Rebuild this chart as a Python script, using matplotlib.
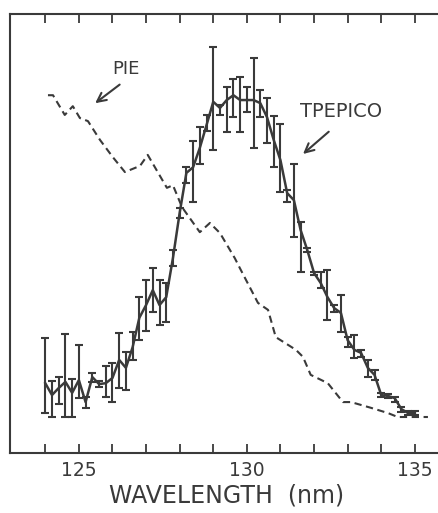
import numpy as np
import matplotlib
matplotlib.use("Agg")
import matplotlib.pyplot as plt

# ---- data ----
tp_wavelength = np.round(np.arange(124.0, 135.01, 0.2), 1)
tp_signal = [15.9, 13.2, 14.8, 16.2, 13.7, 16.6, 11.6, 17.3, 15.7, 15.9,
             17.1, 21.2, 19.4, 24.1, 30.8, 33.7, 37.1, 33.7, 35.5, 44.4,
             54.7, 63.8, 65.1, 69.5, 74.7, 80.0, 78.6, 80.4, 81.5, 80.4,
             80.4, 80.4, 79.7, 76.5, 71.3, 66.7, 59.2, 57.6, 50.8, 46.2,
             41.0, 38.7, 35.5, 33.0, 31.9, 25.7, 23.5, 22.8, 19.4, 17.8,
             13.2, 13.0, 12.5, 10.0, 9.1, 9.1]
tp_high = [26.2, 16.4, 17.3, 27.1, 16.9, 24.6, 12.8, 18.2, 16.4, 19.8,
           20.5, 27.3, 23.0, 27.6, 35.5, 39.4, 42.1, 39.4, 38.7, 46.2,
           55.8, 65.1, 71.1, 74.3, 77.0, 92.5, 79.3, 83.4, 85.2, 85.6,
           83.4, 90.0, 82.7, 80.9, 76.8, 74.9, 59.9, 65.8, 52.6, 46.7,
           41.2, 41.2, 41.7, 33.7, 36.0, 26.4, 26.9, 23.5, 21.2, 18.9,
           13.7, 13.4, 12.8, 10.5, 9.6, 9.6]
tp_low = [9.1, 8.2, 11.2, 8.2, 8.2, 12.5, 10.3, 16.2, 15.0, 12.8,
          11.6, 14.8, 14.4, 21.2, 25.7, 27.8, 32.1, 29.2, 29.8, 42.6,
          53.5, 61.5, 57.2, 65.8, 73.3, 69.0, 77.0, 73.1, 76.5, 73.1,
          77.7, 69.5, 76.5, 70.6, 65.1, 59.5, 57.2, 49.2, 41.2, 45.8,
          40.5, 37.6, 30.3, 32.1, 27.6, 24.1, 21.6, 21.9, 17.3, 16.6,
          12.8, 12.5, 11.6, 9.3, 8.7, 8.7]

pie_wavelength = [124.08, 124.23, 124.58, 124.82, 125.03, 125.27, 125.63,
                  126.01, 126.37, 126.82, 127.05, 127.62, 127.80, 128.07,
                  128.60, 128.90, 129.20, 129.64, 129.82, 130.33, 130.63,
                  130.86, 131.46, 131.67, 131.90, 132.41, 132.86, 133.10,
                  133.69, 134.20, 134.49, 135.39]
pie_signal = [81.5, 81.5, 77.0, 79.0, 76.3, 75.6, 71.3, 67.4, 64.0, 65.4,
              67.9, 60.4, 61.0, 56.0, 50.3, 52.4, 50.1, 44.4, 41.7, 34.2,
              32.6, 26.4, 23.5, 21.9, 17.8, 15.9, 11.6, 11.6, 10.3, 9.1,
              8.2, 8.2]

major_ticks = [125, 130, 135]
minor_ticks = list(range(124, 136))

ink = "#3a3a3a"

fig = plt.figure(figsize=(4.38, 5.13), dpi=100)
W, H = 438, 513
left_px, top_px, bottom_px = 10, 14, 453
ax = fig.add_axes([left_px / W, (H - bottom_px) / H, 1 - left_px / W + 0.01,
                   (bottom_px - top_px) / H])

tp = np.array(tp_signal)
yerr = np.vstack([np.clip(tp - np.array(tp_low), 0, None),
                  np.clip(np.array(tp_high) - tp, 0, None)])
ax.errorbar(tp_wavelength, tp, yerr=yerr, color=ink, lw=1.8,
            elinewidth=1.5, capsize=3.2, capthick=1.5, zorder=3)
ax.plot(pie_wavelength, pie_signal, color=ink, lw=1.5,
        dashes=(3.5, 2.2), zorder=2)

ax.set_xlim(122.95, 135.82)
ax.set_ylim(0, 100)
ax.set_yticks([])
ax.set_xticks(major_ticks)
ax.set_xticks(minor_ticks, minor=True)
ax.tick_params(axis="x", which="both", direction="in", top=True, bottom=True,
               length=6.5, width=1.3, color=ink, labelsize=13.5,
               labelcolor=ink, pad=6)
ax.set_xticklabels([str(t) for t in major_ticks])
for s in ["left", "top", "bottom"]:
    ax.spines[s].set_linewidth(1.5)
    ax.spines[s].set_color(ink)
ax.spines["right"].set_visible(False)

ax.set_xlabel("WAVELENGTH  (nm)", fontsize=17, color=ink, labelpad=8)
# center label near x=227px
ax.xaxis.set_label_coords((227 - left_px) / (W * ax.get_position().width), -0.07)

ax.text(126.41, 87.5, "PIE", fontsize=13, color=ink, ha="center", va="center")
ax.annotate("", xy=(125.42, 79.3), xytext=(126.28, 84.3),
            arrowprops=dict(arrowstyle="->", color=ink, lw=1.5,
                            mutation_scale=16))
ax.text(132.80, 77.9, "TPEPICO", fontsize=14, color=ink, ha="center", va="center")
ax.annotate("", xy=(131.61, 67.7), xytext=(132.50, 73.6),
            arrowprops=dict(arrowstyle="->", color=ink, lw=1.5,
                            mutation_scale=16))

fig.savefig("out.png", dpi=100)
